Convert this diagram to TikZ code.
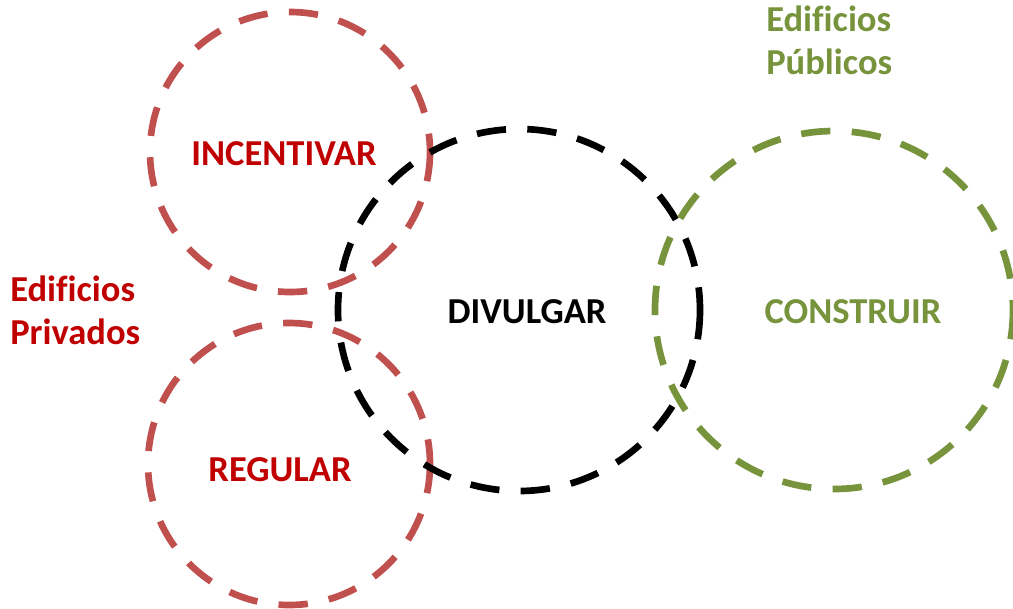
\documentclass[tikz,border=0pt]{standalone}
\usepackage{fontspec}
\setmainfont[Ligatures=NoCommon]{Carlito}
\definecolor{cred}{HTML}{C0504D}
\definecolor{tred}{HTML}{C00000}
\definecolor{cgreen}{HTML}{77933C}
\begin{document}
\begin{tikzpicture}[x=0.75pt,y=-0.75pt,
  ring/.style={draw, line width=5pt, dash pattern=on 22pt off 16pt},
  lbl/.style={font=\fontsize{27.4}{32.3}\selectfont\bfseries, inner sep=0pt},
  side/.style={lbl, align=left, anchor=north west}]
\useasboundingbox (0,0) rectangle (1013,608);
\draw[ring, cred] (290,152) circle[radius=140];
\draw[ring, cred] (289,464) circle[radius=141];
\draw[ring, black] (519,310) circle[radius=181];
\draw[ring, cgreen] (834,310) circle[radius=179];
\node[lbl, text=tred] (inc) at (284,154) {INCENTIVAR};
\node[lbl, text=tred] (reg) at (280,470) {REGULAR};
\node[lbl, text=black] (div) at (527,312) {DIVULGAR};
\node[lbl, text=cgreen] (con) at (853,312) {CONSTRUIR};
\node[side, text=cgreen] (pub) at (766,6) {Edificios\\Públicos};
\node[side, text=tred] (priv) at (10,276) {Edificios\\Privados};
\end{tikzpicture}
\end{document}
